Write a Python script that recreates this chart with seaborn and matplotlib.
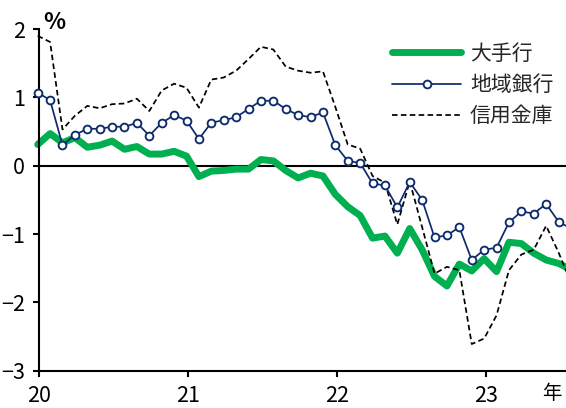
import matplotlib
matplotlib.use("Agg")
import matplotlib.pyplot as plt
from matplotlib.lines import Line2D
import numpy as np
import pandas as pd
import seaborn as sns

# Monthly year-on-year change (%), from Jan 2020
major_banks = [0.31, 0.47, 0.335, 0.41, 0.27, 0.30, 0.36, 0.24, 0.28, 0.17, 0.17, 0.21,
               0.14, -0.16, -0.08, -0.07, -0.05, -0.05, 0.09, 0.07, -0.07, -0.18, -0.11, -0.15,
               -0.42, -0.60, -0.73, -1.06, -1.03, -1.28, -0.92, -1.23, -1.62, -1.76, -1.44, -1.54,
               -1.36, -1.55, -1.12, -1.14, -1.28, -1.38, -1.43, -1.52]
regional_banks = [1.07, 0.96, 0.30, 0.45, 0.54, 0.54, 0.57, 0.57, 0.625, 0.44, 0.625, 0.74,
                  0.66, 0.39, 0.63, 0.665, 0.71, 0.83, 0.95, 0.95, 0.83, 0.74, 0.71, 0.78,
                  0.30, 0.07, 0.04, -0.26, -0.29, -0.61, -0.24, -0.50, -1.05, -1.02, -0.90, -1.38,
                  -1.23, -1.20, -0.83, -0.67, -0.70, -0.56, -0.82, -0.92]
shinkin_banks = [1.90, 1.81, 0.53, 0.73, 0.875, 0.84, 0.90, 0.91, 0.98, 0.80, 1.10, 1.20,
                 1.14, 0.85, 1.26, 1.29, 1.39, 1.56, 1.74, 1.70, 1.45, 1.39, 1.36, 1.38,
                 0.86, 0.31, 0.25, -0.15, -0.25, -0.86, -0.23, -0.90, -1.58, -1.48, -1.53, -2.61,
                 -2.53, -2.19, -1.53, -1.30, -1.23, -0.88, -1.27, -1.71]

series_names = ["大手行", "地域銀行", "信用金庫"]
year_labels = ["20", "21", "22", "23"]
y_ticks = [2, 1, 0, -1, -2, -3]

months = np.arange(len(major_banks))
df = pd.DataFrame({
    "month": months,
    series_names[0]: major_banks,
    series_names[1]: regional_banks,
    series_names[2]: shinkin_banks,
})

sns.set_theme(style="white")
plt.rcParams["font.family"] = ["Liberation Sans Narrow", "Noto Sans CJK JP", "DejaVu Sans"]
plt.rcParams["lines.scale_dashes"] = False

GREEN = "#00b050"
NAVY = "#0c2a6c"
DASH = (4.0, 2.4)
CJK = ["Noto Sans CJK JP", "DejaVu Sans"]

fig = plt.figure(figsize=(5.66, 4.08), dpi=100)
ax = fig.add_axes([39.3 / 566, 37.3 / 408, (566 - 39.3) / 566, 341.7 / 408])

ax.axhline(0, color="black", linewidth=1.5, zorder=1)

sns.lineplot(data=df, x="month", y=series_names[0], ax=ax, color=GREEN,
             linewidth=5.0, clip_on=False, zorder=2)
sns.lineplot(data=df, x="month", y=series_names[2], ax=ax, color="black",
             linewidth=1.25, dashes=False, clip_on=False, zorder=3)
ax.lines[-1].set_dashes(DASH)
sns.lineplot(data=df, x="month", y=series_names[1], ax=ax, color=NAVY,
             linewidth=1.25, marker="o", markersize=5.6, markerfacecolor="white",
             markeredgecolor=NAVY, markeredgewidth=1.35, clip_on=False, zorder=4)

x_offset = 0.13
ax.set_xlim(x_offset, 42.6)
ax.set_ylim(-3, 2)
ax.set_xticks([x_offset + 12 * i for i in range(len(year_labels))])
ax.set_xticklabels(year_labels)
ax.set_yticks(y_ticks)
ax.set_xlabel("")
ax.set_ylabel("")

for side in ["top", "right"]:
    ax.spines[side].set_visible(False)
for side in ["left", "bottom"]:
    ax.spines[side].set_color("black")
    ax.spines[side].set_linewidth(1.5)

ax.tick_params(axis="both", direction="out", length=4.5, width=1.5,
               labelsize=15.5, colors="black", pad=6, left=True, bottom=True)

ax.annotate("%", xy=(0, 1), xycoords="axes fraction", xytext=(3.0, -0.3),
            textcoords="offset points", ha="left", va="baseline",
            fontsize=16.5, fontweight="bold", family=CJK, color="black")
ax.annotate("年", xy=(1, 0), xycoords="axes fraction", xytext=(-3, -9),
            textcoords="offset points", ha="right", va="top", fontsize=14,
            family=CJK, color="black")

handles = [
    Line2D([], [], color=GREEN, linewidth=5.0),
    Line2D([], [], color=NAVY, linewidth=1.25, marker="o", markersize=5.6,
           markerfacecolor="white", markeredgecolor=NAVY, markeredgewidth=1.35),
    Line2D([], [], color="black", linewidth=1.25, dashes=DASH),
]
leg = ax.legend(handles, series_names, loc="center left",
                bbox_to_anchor=(391.7 / 566, 1 - 85 / 408), bbox_transform=fig.transFigure,
                frameon=False, numpoints=1, handlelength=3.35, handletextpad=0.4,
                labelspacing=0.45, borderpad=0, borderaxespad=0,
                prop={"family": CJK, "size": 15})

fig.savefig("out.png", dpi=100)
